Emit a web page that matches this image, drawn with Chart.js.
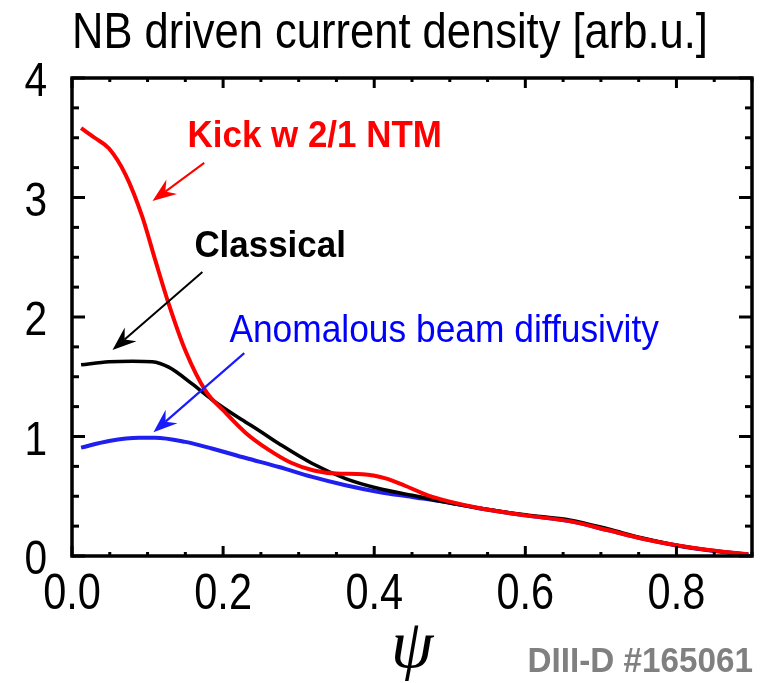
<!DOCTYPE html>
<html>
<head>
<meta charset="utf-8">
<script src="https://cdn.jsdelivr.net/npm/chart.js@4"></script>
<style>
html,body{margin:0;padding:0;background:#fff;}
#wrap{width:761px;height:683px;position:relative;}
</style>
</head>
<body>
<div id="wrap"><canvas id="c"></canvas></div>
<script>
// ---- data ----
const psiKick = [0.012,0.03,0.049,0.071,0.093,0.11,0.128,0.15,0.177,0.2,0.23,0.26,0.29,0.32,0.35,0.385,0.415,0.44,0.47,0.5,0.54,0.6,0.66,0.71,0.755,0.8,0.845,0.895];
const jKick   = [3.58,3.50,3.41,3.19,2.84,2.48,2.11,1.72,1.38,1.22,1.03,0.89,0.78,0.715,0.69,0.685,0.65,0.59,0.51,0.455,0.40,0.34,0.29,0.215,0.145,0.09,0.048,0.014];

const psiClassical = [0.012,0.049,0.08,0.106,0.128,0.159,0.185,0.21,0.23,0.25,0.274,0.318,0.362,0.406,0.45,0.494,0.54,0.6,0.66,0.71,0.755,0.8,0.845,0.895];
const jClassical   = [1.60,1.625,1.63,1.625,1.58,1.44,1.31,1.20,1.12,1.04,0.94,0.774,0.648,0.565,0.508,0.452,0.40,0.345,0.30,0.225,0.15,0.09,0.048,0.014];

const psiAnomalous = [0.012,0.049,0.089,0.11,0.15,0.185,0.23,0.274,0.318,0.362,0.406,0.45,0.494,0.538,0.6,0.66,0.71,0.755,0.8,0.845,0.895];
const jAnomalous   = [0.907,0.963,0.99,0.99,0.955,0.90,0.82,0.745,0.662,0.592,0.536,0.494,0.452,0.40,0.34,0.29,0.215,0.145,0.088,0.045,0.012];

const seriesNames = ["Kick w 2/1 NTM","Classical","Anomalous beam diffusivity"];
const xTickLabels = ["0.0","0.2","0.4","0.6","0.8"];
const yTickLabels = ["0","1","2","3","4"];
const titleText = "NB driven current density [arb.u.]";
const xTitle = "\u03C8";
const shotLabel = "DIII-D #165061";

// annotation anchors in data units: [psi, value]
const labelKick = [0.153, 3.42];
const labelClassical = [0.162, 2.50];
const labelAnomalous = [0.2083, 1.79];
const arrowKick = [[0.175, 3.29],[0.1065, 2.97]];
const arrowClassical = [[0.1726, 2.376],[0.0536, 1.723]];
const arrowAnomalous = [[0.228, 1.698],[0.1078, 1.036]];

const toXY = (xs, ys) => xs.map((x,i)=>({x:x, y:ys[i]}));

const SANS = "'Liberation Sans',Arial,Helvetica,sans-serif";

// draws text horizontally condensed (the reference uses a narrow face)
function condensedText(ctx, text, x, y, font, sx, align){
  ctx.save();
  ctx.font = font;
  const w = ctx.measureText(text).width * sx;
  let left = x;
  if (align === 'center') left = x - w/2;
  else if (align === 'right') left = x - w;
  ctx.translate(left, y);
  ctx.scale(sx, 1);
  ctx.textAlign = 'left';
  ctx.fillText(text, 0, 0);
  ctx.restore();
}

function drawArrow(ctx, x0, y0, x1, y1, color, lw){
  const ang = Math.atan2(y1-y0, x1-x0);
  const L = 24, W = 9, notch = 8;
  ctx.save();
  ctx.strokeStyle = color; ctx.fillStyle = color; ctx.lineWidth = lw;
  const bx = x1 - Math.cos(ang)*(L-notch), by = y1 - Math.sin(ang)*(L-notch);
  ctx.beginPath(); ctx.moveTo(x0,y0); ctx.lineTo(bx,by); ctx.stroke();
  const px = -Math.sin(ang), py = Math.cos(ang);
  const cx = x1 - Math.cos(ang)*L, cy = y1 - Math.sin(ang)*L;
  ctx.beginPath();
  ctx.moveTo(x1,y1);
  ctx.lineTo(cx + px*W, cy + py*W);
  ctx.lineTo(bx, by);
  ctx.lineTo(cx - px*W, cy - py*W);
  ctx.closePath(); ctx.fill();
  ctx.restore();
}

const framePlugin = {
  id: 'frame',
  afterDatasetsDraw(chart){
    const {ctx, chartArea:a, scales:{x, y}} = chart;
    ctx.save();
    ctx.strokeStyle = '#000';
    // ticks on all four sides
    ctx.lineWidth = 3;
    for (let k = 0; k <= 18; k++){
      const v = k*0.05;
      const px = x.getPixelForValue(v);
      const major = (k % 4 === 0);
      const len = major ? 10 : 4;
      ctx.beginPath(); ctx.moveTo(px, a.bottom); ctx.lineTo(px, a.bottom - len); ctx.stroke();
      ctx.beginPath(); ctx.moveTo(px, a.top); ctx.lineTo(px, a.top + len); ctx.stroke();
    }
    for (let k = 0; k <= 16; k++){
      const v = k*0.25;
      const py = y.getPixelForValue(v);
      const major = (k % 4 === 0);
      const len = major ? 13 : 7;
      ctx.beginPath(); ctx.moveTo(a.left, py); ctx.lineTo(a.left + len, py); ctx.stroke();
      ctx.beginPath(); ctx.moveTo(a.right, py); ctx.lineTo(a.right - len, py); ctx.stroke();
    }
    ctx.lineWidth = 3.5;
    ctx.strokeRect(a.left, a.top, a.right - a.left, a.bottom - a.top);

    // tick labels from the library's own ticks
    ctx.fillStyle = '#000';
    ctx.textBaseline = 'alphabetic';
    x.ticks.forEach((t) => {
      const lab = xTickLabels[Math.round(t.value/0.2)];
      if (lab === undefined) return;
      condensedText(ctx, lab, x.getPixelForValue(t.value), a.bottom + 53, "50px " + SANS, 0.83, 'center');
    });
    y.ticks.forEach((t) => {
      const lab = yTickLabels[Math.round(t.value)];
      if (lab === undefined) return;
      condensedText(ctx, lab, a.left - 25, y.getPixelForValue(t.value) + 18, "49px " + SANS, 0.83, 'right');
    });

    // title
    condensedText(ctx, titleText, 72, 48, "50px " + SANS, 0.87, 'left');

    // annotations
    const P = (p) => [x.getPixelForValue(p[0]), y.getPixelForValue(p[1])];
    let q;
    ctx.fillStyle = '#ff0000';
    q = P(labelKick); condensedText(ctx, seriesNames[0], q[0], q[1], "bold 36px " + SANS, 0.97, 'left');
    ctx.fillStyle = '#000000';
    q = P(labelClassical); condensedText(ctx, seriesNames[1], q[0], q[1], "bold 36px " + SANS, 0.97, 'left');
    ctx.fillStyle = '#0000ff';
    q = P(labelAnomalous); condensedText(ctx, seriesNames[2], q[0], q[1], "38px " + SANS, 0.93, 'left');

    let s, e;
    s = P(arrowKick[0]); e = P(arrowKick[1]); drawArrow(ctx, s[0], s[1], e[0], e[1], '#ff0000', 2);
    s = P(arrowClassical[0]); e = P(arrowClassical[1]); drawArrow(ctx, s[0], s[1], e[0], e[1], '#000000', 2);
    s = P(arrowAnomalous[0]); e = P(arrowAnomalous[1]); drawArrow(ctx, s[0], s[1], e[0], e[1], '#1a1aff', 2.2);

    // shot label
    ctx.fillStyle = '#808080';
    condensedText(ctx, shotLabel, 753, 672, "bold 35px " + SANS, 0.95, 'right');
    ctx.restore();
  }
};

const ctx = document.getElementById('c').getContext('2d');
new Chart(ctx, {
  type: 'line',
  data: {
    datasets: [
      {label: seriesNames[0], data: toXY(psiKick, jKick), borderColor: '#ff0000', borderWidth: 4, order: 1},
      {label: seriesNames[1], data: toXY(psiClassical, jClassical), borderColor: '#000000', borderWidth: 3.6, order: 2},
      {label: seriesNames[2], data: toXY(psiAnomalous, jAnomalous), borderColor: '#1f1fef', borderWidth: 4, order: 3}
    ]
  },
  options: {
    responsive: true,
    maintainAspectRatio: false,
    animation: false,
    layout: {padding: {left: 0, right: 9, top: 78, bottom: 0}},
    elements: {point: {radius: 0}, line: {cubicInterpolationMode: 'monotone', fill: false}},
    plugins: {
      legend: {display: false},
      tooltip: {enabled: false},
      title: {display: false, text: titleText}
    },
    scales: {
      x: {
        type: 'linear', min: 0, max: 0.9,
        grid: {display: false, drawTicks: false},
        border: {display: false},
        ticks: {stepSize: 0.2, includeBounds: false, autoSkip: false, maxRotation: 0, display: false},
        title: {display: true, text: xTitle, color: '#000', font: {family: "'Liberation Serif','Times New Roman',serif", style: 'italic', size: 68, lineHeight: 1.0}, padding: {top: 0, bottom: 0}},
        afterFit: (s) => { s.height = 127; }
      },
      y: {
        type: 'linear', min: 0, max: 4,
        grid: {display: false, drawTicks: false},
        border: {display: false},
        ticks: {stepSize: 1, display: false},
        afterFit: (s) => { s.width = 72; }
      }
    }
  },
  plugins: [framePlugin]
});
</script>
</body>
</html>
